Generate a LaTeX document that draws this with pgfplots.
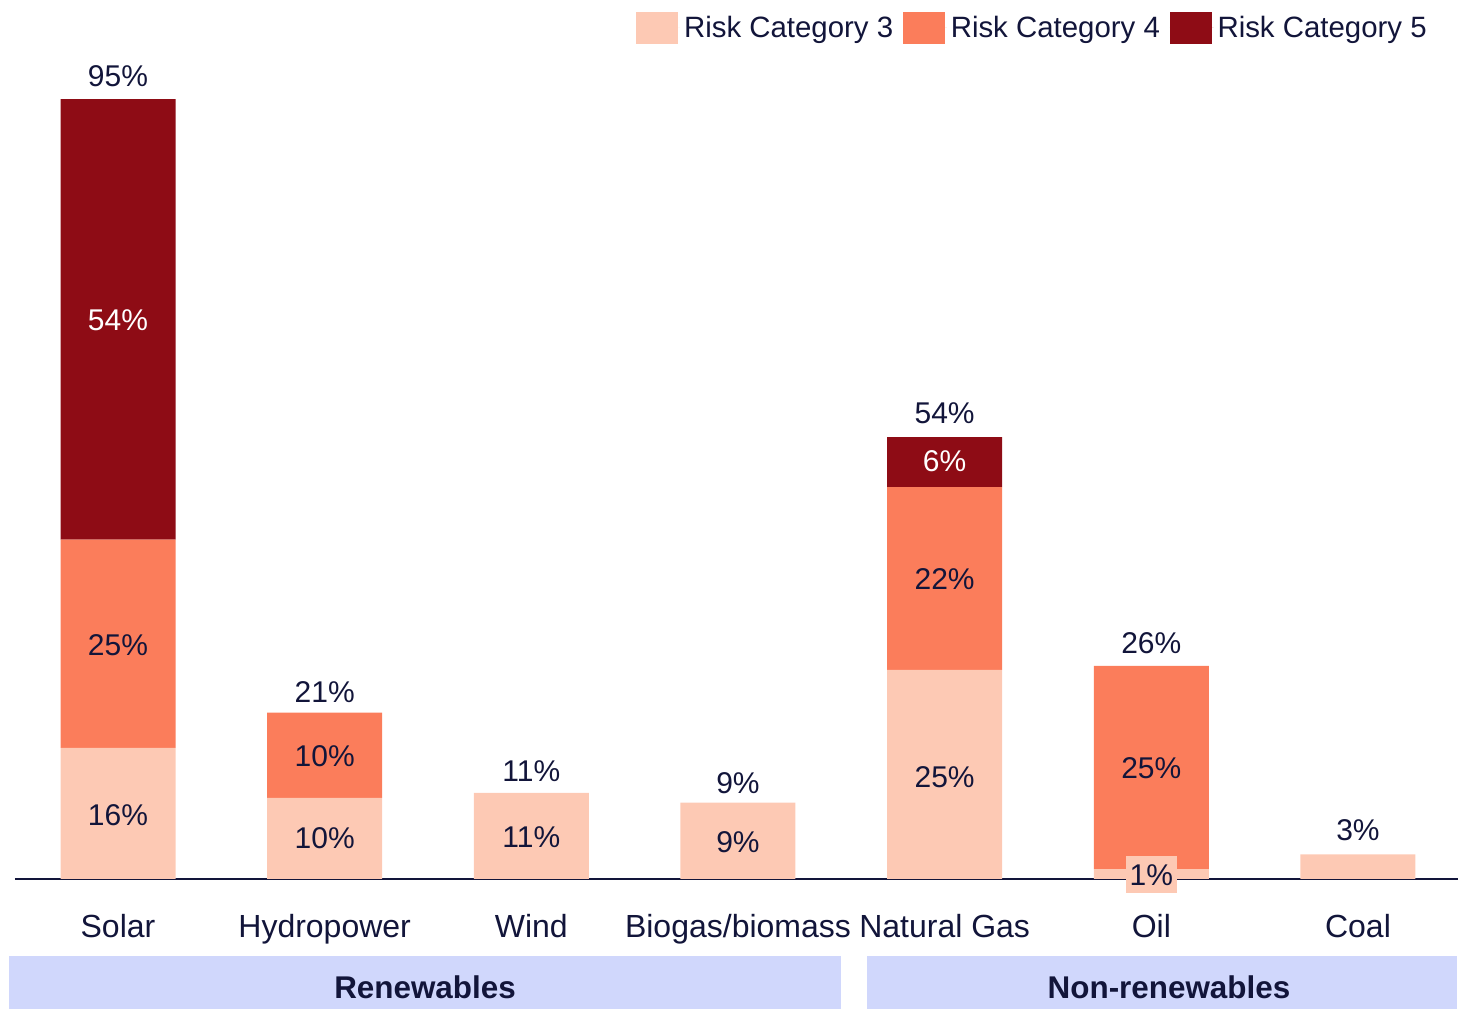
\documentclass[border=0pt]{standalone}
\usepackage{pgfplots}
\pgfplotsset{compat=1.18}
\usepackage{fontspec}
\setmainfont{Liberation Sans}
\definecolor{cthree}{HTML}{FDC9B4}
\definecolor{cfour}{HTML}{FB7D5B}
\definecolor{cfive}{HTML}{8E0C15}
\definecolor{navy}{HTML}{12153A}
\definecolor{band}{HTML}{D0D7FC}
\begin{document}
\begin{tikzpicture}
\useasboundingbox (0pt,0pt) rectangle (729pt,505pt);
\pgfplotsset{base/.style={scale only axis, width=721.5pt, height=410pt,
  xmin=-0.4984, xmax=6.484, ymin=0, ymax=100,
  at={(7.5pt,65.5pt)}, anchor=south west, clip=false}}
\begin{axis}[base, ybar stacked, bar width=57.5pt,
  axis x line=bottom, axis y line=none,
  x axis line style={-, draw=navy, line width=1pt},
  xtick={0,1,2,3,4,5,6},
  xticklabels={Solar,Hydropower,Wind,Biogas/biomass,Natural Gas,Oil,Coal},
  major tick length=0pt,
  xticklabel style={font=\fontsize{16}{19}\selectfont, text=navy, anchor=base, yshift=-29.5pt},
  legend columns=3,
  legend style={at={(0.9855,1.063)}, anchor=north east, draw=none, fill=none,
    font=\fontsize{14.7}{17}\selectfont, text=navy,
    /tikz/every even column/.append style={column sep=3pt}},
  legend image code/.code={\fill[#1] (0pt,-8pt) rectangle (21pt,8pt); \path (0pt,0pt) -- (21.8pt,0pt);},
]
\addplot[fill=cthree, draw=none] coordinates {(0,16.0) (1,9.9) (2,10.5) (3,9.3) (4,25.5) (5,1.2) (6,3.0)};
\addplot[fill=cfour, draw=none] coordinates {(0,25.4) (1,10.4) (2,0) (3,0) (4,22.3) (5,24.8) (6,0)};
\addplot[fill=cfive, draw=none] coordinates {(0,53.7) (1,0) (2,0) (3,0) (4,6.1) (5,0) (6,0)};
\legend{Risk Category 3,Risk Category 4,Risk Category 5}
\end{axis}
\begin{axis}[base, hide axis]
\addplot[draw=none, nodes near coords, point meta=explicit symbolic,
  nodes near coords align={anchor=center},
  every node near coord/.append style={font=\fontsize{15}{18}\selectfont, text=navy}]
  coordinates {(0,7.8) [16\%] (0,28.5) [25\%] (0,97.9) [95\%]
  (1,5) [10\%] (1,15) [10\%] (1,22.8) [21\%]
  (2,5.1) [11\%] (2,13.2) [11\%]
  (3,4.5) [9\%] (3,11.7) [9\%]
  (4,12.4) [25\%] (4,36.6) [22\%] (4,56.8) [54\%]
  (5,13.5) [25\%] (5,28.7) [26\%]
  (6,6.0) [3\%]};
\addplot[draw=none, nodes near coords, point meta=explicit symbolic,
  nodes near coords align={anchor=center},
  every node near coord/.append style={font=\fontsize{15}{18}\selectfont, text=white}]
  coordinates {(0,68.2) [54\%] (4,50.9) [6\%]};
\addplot[draw=none, nodes near coords, point meta=explicit symbolic,
  nodes near coords align={anchor=center},
  every node near coord/.append style={font=\fontsize{15}{18}\selectfont, text=navy, fill=cthree, inner xsep=2pt, inner ysep=4pt}]
  coordinates {(5,0.5) [1\%]};
\end{axis}
\fill[band] (4.5pt,0.5pt) rectangle (420.5pt,27pt);
\node[font=\bfseries\fontsize{15.7}{18}\selectfont, text=navy] at (212.5pt,11.5pt) {Renewables};
\fill[band] (433.5pt,0.5pt) rectangle (728.5pt,27pt);
\node[font=\bfseries\fontsize{15.7}{18}\selectfont, text=navy] at (584.5pt,11.5pt) {Non-renewables};
\end{tikzpicture}
\end{document}
